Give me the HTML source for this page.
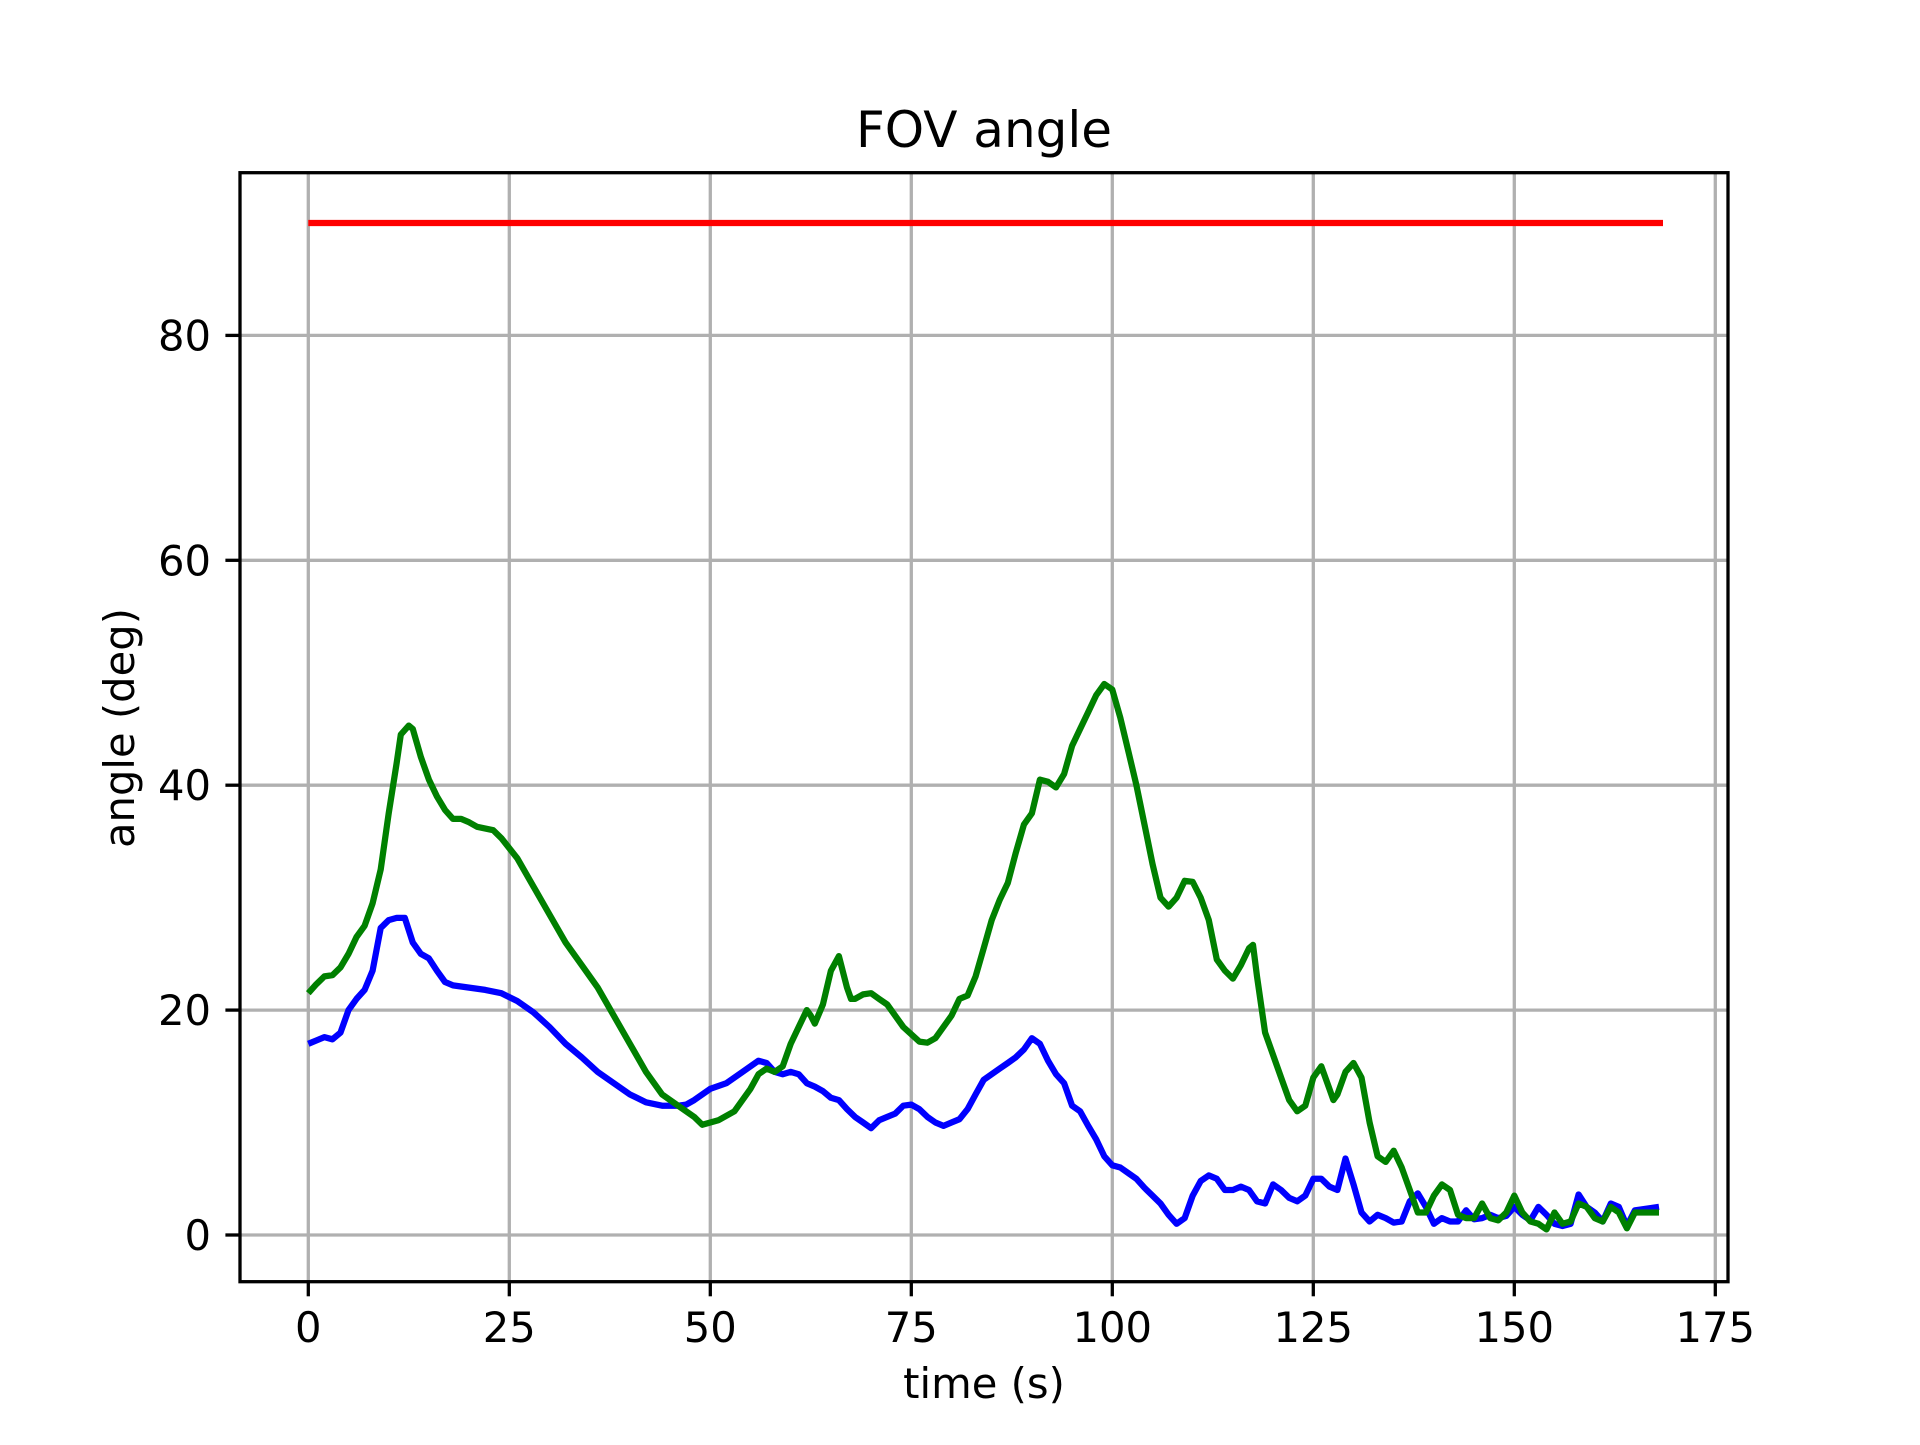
<!DOCTYPE html>
<html><head><meta charset="utf-8"><style>
html,body{margin:0;padding:0;background:#fff}
svg text{font-family:"DejaVu Sans","Liberation Sans",sans-serif;fill:#000}
</style></head><body>
<svg id="chart" width="1920" height="1440" viewBox="0 0 1920 1440" xmlns="http://www.w3.org/2000/svg">
<rect width="1920" height="1440" fill="#fff"/>
<g id="grid"></g>
<g id="series"></g>
<rect x="240" y="172.7" width="1488" height="1109" fill="none" stroke="#000" stroke-width="3.3"/>
<g id="ticks"></g>
<text x="984" y="147" font-size="50" text-anchor="middle">FOV angle</text>
<text x="984" y="1398" font-size="41.7" text-anchor="middle">time (s)</text>
<text transform="translate(134,728) rotate(-90)" font-size="41.7" text-anchor="middle">angle (deg)</text>
</svg>
<script>
const xTicks=[0,25,50,75,100,125,150,175];
const yTicks=[0,20,40,60,80];
const redT=[0,168.5];
const redV=[90,90];
const greenT=[0,1,2,3,4,5,6,7,8,9,10,11,11.5,12.5,13,14,15,16,17,18,19,20,21,23,24,26,28,30,32,34,36,38,40,42,44,46,48,49,51,53,55,56,57,58,59,60,61,62,62.5,63,64,65,66,67,67.5,68,69,70,71,72,74,76,77,78,80,81,82,83,84,85,86,87,88,89,90,91,92,93,94,95,96,97,98,99,100,101,102,103,104,105,106,107,108,109,110,111,112,113,114,115,116,117,117.5,118,119,120,121,122,123,124,125,126,127,127.5,128,129,130,131,132,133,134,135,136,137,138,139,140,141,142,143,144,145,146,147,148,149,150,151,152,153,154,155,156,157,158,159,160,161,162,163,164,165,168];
const greenV=[21.5,22.3,23,23.1,23.8,25,26.5,27.5,29.5,32.5,37.5,42,44.5,45.3,45,42.5,40.5,39,37.8,37,37,36.7,36.3,36,35.3,33.5,31,28.5,26,24,22,19.5,17,14.5,12.5,11.5,10.5,9.8,10.2,11,13,14.3,14.8,14.5,15,17,18.5,20,19.5,18.8,20.5,23.5,24.8,22,21,21,21.4,21.5,21,20.5,18.5,17.2,17.1,17.5,19.5,21,21.3,23,25.5,28,29.8,31.3,34,36.5,37.5,40.5,40.3,39.8,41,43.5,45,46.5,48,49,48.5,46,43,40,36.5,33,30,29.2,30,31.5,31.4,30,28,24.5,23.5,22.8,24,25.5,25.8,23,18,16,14,12,11,11.5,14,15,13,12,12.5,14.5,15.3,14,10,7,6.5,7.5,6,4,2,2,3.5,4.5,4,1.8,1.5,1.5,2.8,1.5,1.3,2,3.5,2,1.2,1.0,0.5,2,1,1.2,2.8,2.5,1.5,1.2,2.5,2,0.6,2,2];
const blueT=[0,1,2,3,4,5,6,7,8,9,10,11,12,13,14,15,16,17,18,20,22,24,26,28,30,32,34,36,38,40,42,44,46,47,48,50,52,54,56,57,58,59,60,61,62,63,64,65,66,67,68,69,70,71,72,73,74,75,76,77,78,79,80,81,82,83,84,85,86,87,88,89,90,91,92,93,94,95,96,97,98,99,100,101,102,103,104,105,106,107,108,109,110,111,112,113,114,115,116,117,118,119,120,121,122,123,124,125,126,127,128,129,130,131,132,133,134,135,136,137,138,139,140,141,142,143,144,145,146,147,148,149,150,151,152,153,154,155,156,157,158,159,160,161,162,163,164,165,168];
const blueV=[17,17.3,17.6,17.4,18,20,21,21.8,23.5,27.3,28,28.2,28.2,26,25,24.6,23.5,22.5,22.2,22,21.8,21.5,20.8,19.8,18.5,17,15.8,14.5,13.5,12.5,11.8,11.5,11.5,11.6,12,13,13.5,14.5,15.5,15.3,14.5,14.3,14.5,14.3,13.5,13.2,12.8,12.2,12,11.2,10.5,10,9.5,10.2,10.5,10.8,11.5,11.6,11.2,10.5,10,9.7,10,10.3,11.2,12.5,13.8,14.3,14.8,15.3,15.8,16.5,17.5,17,15.5,14.3,13.5,11.5,11,9.7,8.5,7,6.2,6,5.5,5,4.2,3.5,2.8,1.8,1,1.5,3.5,4.8,5.3,5,4,4,4.3,4,3,2.8,4.5,4,3.3,3,3.5,5,5,4.3,4,6.8,4.5,2,1.2,1.8,1.5,1.1,1.2,3,3.7,2.5,1,1.5,1.2,1.2,2.2,1.4,1.5,1.8,1.5,1.7,2.5,1.8,1.3,2.5,1.8,1,0.8,1,3.6,2.5,2,1.2,2.8,2.5,0.8,2.2,2.5];

const NS='http://www.w3.org/2000/svg';
const X0=308.3,XS=8.04,Y0=1235,YS=11.245;
function sx(v){return X0+v*XS;}
function sy(v){return Y0-v*YS;}
const grid=document.getElementById('grid'),ticks=document.getElementById('ticks'),ser=document.getElementById('series');
function mk(tag,attrs,parent){const e=document.createElementNS(NS,tag);for(const k in attrs)e.setAttribute(k,attrs[k]);parent.appendChild(e);return e;}
xTicks.forEach(t=>{
  const g=mk('line',{x1:sx(t),x2:sx(t),y1:172.7,y2:1281.7,stroke:'#b0b0b0','stroke-width':3.3},grid);
  
  
  const tk=mk('line',{x1:sx(t),x2:sx(t),y1:1281.7,y2:1296.3,stroke:'#000','stroke-width':3.3},ticks);
  
  
  const lb=mk('text',{x:sx(t),y:1342,'font-size':41.7,'text-anchor':'middle'},ticks);
  lb.textContent=t;
  
  
});
yTicks.forEach(t=>{
  const g=mk('line',{x1:240,x2:1728,y1:sy(t),y2:sy(t),stroke:'#b0b0b0','stroke-width':3.3},grid);
  
  
  const tk=mk('line',{x1:225.4,x2:240,y1:sy(t),y2:sy(t),stroke:'#000','stroke-width':3.3},ticks);
  
  
  const lb=mk('text',{x:211,y:sy(t)+15,'font-size':41.7,'text-anchor':'end'},ticks);
  lb.textContent=t;
  
  
});
function line(T,V,color,name){
  let d='';T.forEach((t,i)=>{d+=(i?'L':'M')+sx(t).toFixed(1)+','+sy(V[i]).toFixed(1);});
  const p=mk('path',{d:d,fill:'none',stroke:color,'stroke-width':6.25,'stroke-linejoin':'round'},ser);
  
  
}
line(redT,redV,'#ff0000','fov-limit-line');
line(blueT,blueV,'#0000ff','blue-angle-line');
line(greenT,greenV,'#008000','green-angle-line');
</script>
</body></html>
